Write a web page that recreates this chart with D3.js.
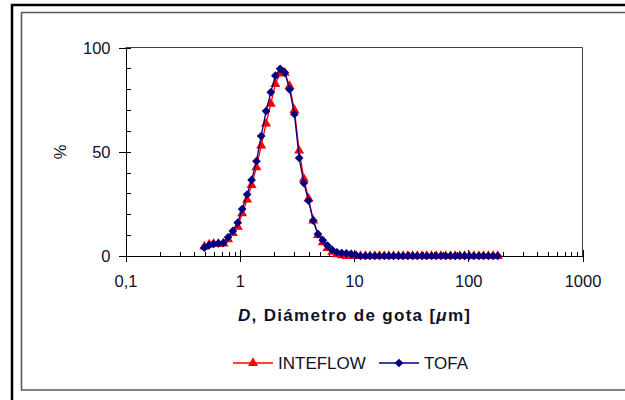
<!DOCTYPE html>
<html>
<head>
    <title>Distribucion de tamano de gota</title>
    <script src="https://d3js.org/d3.v7.min.js"></script>
    <style>
        body { margin: 0; background: #fff; }
        svg { display: block; font-family: "Liberation Sans", Arial, sans-serif; }
        .axis text { font-size: 16.5px; fill: #10102a; }
        .axis path, .axis line { stroke: #000; shape-rendering: crispEdges; }
    </style>
</head>
<body>
    <svg id="chart" width="625" height="400"></svg>

    <script>
        // Droplet diameters (um) shared by both instruments
        const diameters = [0.49, 0.54, 0.59, 0.65, 0.72, 0.79, 0.87, 0.96, 1.05, 1.16, 1.27, 1.40, 1.54, 1.70,
            1.87, 2.05, 2.26, 2.48, 2.73, 3.01, 3.31, 3.64, 4.00, 4.40, 4.84, 5.33, 5.86, 6.45, 7.09, 7.80,
            8.58, 9.44, 10.4, 11.4, 12.6, 13.8, 15.2, 16.7, 18.4, 20.2, 22.2, 24.5, 26.9, 29.6, 32.6, 35.8,
            39.4, 43.3, 47.7, 52.4, 57.7, 63.5, 69.8, 76.8, 84.5, 92.9, 102, 112, 124, 136, 150, 165, 181];

        // % per size class
        const inteflow = [4.5, 5.5, 5.8, 5.8, 6.0, 8.0, 11.0, 14.0, 20.5, 27.0, 34.0, 42.5, 53.0, 63.5,
            73.0, 82.5, 87.5, 87.8, 81.5, 70.0, 50.5, 37.0, 27.5, 17.0, 10.0, 6.5, 3.8, 2.0, 0.8, 0.3,
            0, 0, 0, 0, 0, 0, 0, 0, 0, 0, 0, 0, 0, 0, 0, 0,
            0, 0, 0, 0, 0, 0, 0, 0, 0, 0, 0, 0, 0, 0, 0, 0, 0];
        const tofa = [4.0, 5.2, 5.8, 6.1, 6.3, 9.0, 12.0, 16.0, 22.5, 29.5, 36.5, 45.5, 57.5, 69.5,
            78.5, 86.5, 89.8, 88.0, 79.9, 68.0, 47.0, 35.0, 26.5, 17.0, 10.5, 7.6, 5.0, 2.9, 1.8, 1.4,
            1.3, 1.0, 0.4, 0, 0, 0, 0, 0, 0, 0, 0, 0, 0, 0, 0, 0,
            0, 0, 0, 0, 0, 0, 0, 0, 0, 0, 0, 0, 0, 0, 0, 0, 0];

        const xTicks = [0.1, 1, 10, 100, 1000];
        const yTicks = [0, 50, 100];
        const seriesNames = ["INTEFLOW", "TOFA"];

        const svg = d3.select("svg#chart");
        const plot = { left: 125.5, right: 582.5, top: 47.5, bottom: 256 };

        const x = d3.scaleLog().domain([0.1, 1000]).range([plot.left, plot.right]);
        const y = d3.scaleLinear().domain([0, 100]).range([plot.bottom, plot.top]);

        // outer black frame (only top and left edges fall inside the page)
        svg.append("path")
            .attr("d", "M12,400 V5 H625")
            .attr("fill", "none")
            .attr("stroke", "#000")
            .attr("stroke-width", 2.5);

        // inner gray chart area frame
        svg.append("path")
            .attr("d", "M625,12.5 H21.5 V390 H625")
            .attr("fill", "none")
            .attr("stroke", "#5a5a5a")
            .attr("stroke-width", 1.6);

        // plot area border (top + right)
        svg.append("path")
            .attr("d", `M${plot.left},${plot.top} H${plot.right} V${plot.bottom}`)
            .attr("fill", "none")
            .attr("stroke", "#404040")
            .attr("stroke-width", 1);

        // y axis: major ticks outside with labels, all ticks inside
        svg.append("g")
            .attr("class", "axis")
            .attr("transform", `translate(${plot.left},0)`)
            .call(d3.axisLeft(y).tickValues(yTicks).tickSize(7).tickSizeOuter(0).tickPadding(8))
            .call(g => g.selectAll("text").attr("dy", "0.36em"));

        svg.append("g")
            .attr("class", "axis")
            .attr("transform", `translate(${plot.left},0)`)
            .call(d3.axisRight(y).tickValues(d3.range(0, 101, 10)).tickSize(5).tickFormat(""))
            .call(g => g.select(".domain").remove());

        // x axis: decades cross the axis, minor ticks inside
        svg.append("g")
            .attr("class", "axis")
            .attr("transform", `translate(0,${plot.bottom})`)
            .call(d3.axisBottom(x).tickValues(xTicks).tickSize(6).tickSizeOuter(0).tickPadding(13)
                .tickFormat(d => d === 0.1 ? "0,1" : d3.format("d")(d)));

        svg.append("g")
            .attr("class", "axis")
            .attr("transform", `translate(0,${plot.bottom})`)
            .call(d3.axisTop(x).tickValues(x.ticks()).tickSize(4).tickFormat(""))
            .call(g => g.select(".domain").remove())
            .call(g => g.selectAll(".tick line").attr("y2", d => xTicks.includes(d) ? -6 : -4));

        // axis titles
        svg.append("text")
            .attr("transform", "translate(66,152) rotate(-90)")
            .attr("text-anchor", "middle")
            .style("font-size", "16.5px")
            .style("fill", "#10102a")
            .text("%");

        const title = svg.append("text")
            .attr("x", 238)
            .attr("y", 321)
            .attr("textLength", 232)
            .attr("lengthAdjust", "spacing")
            .style("font-size", "17px")
            .style("font-weight", "bold")
            .style("fill", "#10102a");
        title.append("tspan").style("font-style", "italic").text("D");
        title.append("tspan").text(", Diámetro de gota [");
        title.append("tspan").style("font-style", "italic").text("μ");
        title.append("tspan").text("m]");

        // series
        const series = [
            { name: seriesNames[0], values: inteflow, color: "#ff0000",
              symbol: d3.symbol(d3.symbolTriangle, 44), rotate: 0 },
            { name: seriesNames[1], values: tofa, color: "#000080",
              symbol: d3.symbol(d3.symbolSquare, 38), rotate: 45 }
        ];

        const line = d3.line()
            .x(d => x(d.d))
            .y(d => y(d.v));

        series.forEach(s => {
            const pts = diameters.map((d, i) => ({ d: d, v: s.values[i] }));

            svg.append("path")
                .datum(pts)
                .attr("d", line)
                .attr("fill", "none")
                .attr("stroke", s.color)
                .attr("stroke-width", 1.3);

            svg.append("g")
                .selectAll("path")
                .data(pts)
                .join("path")
                .attr("d", s.symbol)
                .attr("transform", d => `translate(${x(d.d)},${y(d.v)}) rotate(${s.rotate})`)
                .attr("fill", s.color);
        });

        // legend
        const legendX = [233, 379];
        const legend = svg.selectAll(".legend")
            .data(series)
            .join("g")
            .attr("class", "legend")
            .attr("transform", (d, i) => `translate(${legendX[i]},363)`);

        legend.append("line")
            .attr("x1", 0)
            .attr("x2", 40)
            .attr("stroke", d => d.color)
            .attr("stroke-width", 1.3);

        legend.append("path")
            .attr("d", d => d.symbol())
            .attr("transform", d => `translate(20,0) rotate(${d.rotate})`)
            .attr("fill", d => d.color);

        legend.append("text")
            .attr("x", 45)
            .attr("y", 6)
            .style("font-size", "17px")
            .style("fill", "#10102a")
            .text(d => d.name);
    </script>
</body>
</html>
